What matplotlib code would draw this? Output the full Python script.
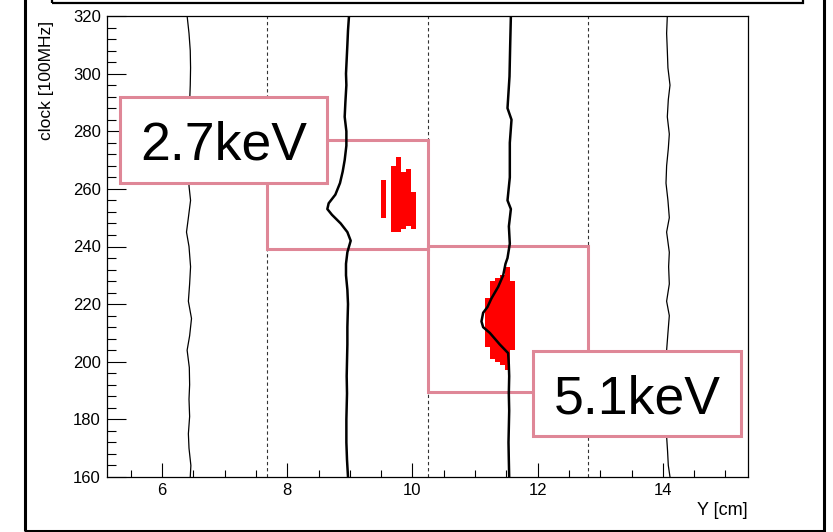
import matplotlib
matplotlib.use('Agg')
import matplotlib.pyplot as plt
from matplotlib.patches import Rectangle
from matplotlib.ticker import MultipleLocator

plt.rcParams['font.family'] = ['Liberation Sans', 'DejaVu Sans']

# ---- waveforms: clock [100MHz] vs Y position [cm] ----
wf1_clock = [320, 314, 308, 302, 296, 290, 284, 278, 272, 266, 261, 256, 250, 245, 240,
             233, 227, 221, 215, 209, 204, 198, 192, 187, 181, 175, 170, 164, 160]
wf1_pos = [6.40, 6.43, 6.45, 6.455, 6.45, 6.44, 6.45, 6.44, 6.45, 6.43, 6.43, 6.455, 6.42, 6.39, 6.43,
           6.455, 6.44, 6.42, 6.47, 6.44, 6.40, 6.435, 6.44, 6.43, 6.44, 6.42, 6.43, 6.46, 6.45]

wf2_clock = [320, 315, 310, 305, 300, 296, 290, 285, 280, 275, 270, 266, 262, 258, 255, 253, 251,
             248, 245, 242, 238, 234, 230, 225, 220, 212, 206, 200, 195, 189, 180, 172, 166, 160]
wf2_pos = [8.986, 8.970, 8.960, 8.949, 8.938, 8.944, 8.928, 8.917, 8.944, 8.944, 8.917, 8.885,
           8.842, 8.768, 8.661, 8.640, 8.714, 8.853, 8.960, 9.013, 8.960, 8.938, 8.938, 8.960,
           8.970, 8.960, 8.960, 8.954, 8.949, 8.954, 8.944, 8.944, 8.954, 8.970]

wf3_clock = [320, 310, 299, 288, 284, 276, 264, 256, 253, 247, 241, 236, 234, 230, 226, 222,
             219, 217, 214, 212, 210, 206, 203, 199, 195, 189, 183, 177, 172, 166, 160]
wf3_pos = [11.572, 11.561, 11.550, 11.518, 11.582, 11.555, 11.555, 11.518, 11.572, 11.540,
           11.555, 11.518, 11.486, 11.449, 11.369, 11.262, 11.198, 11.129, 11.102, 11.129,
           11.236, 11.395, 11.528, 11.539, 11.545, 11.539, 11.545, 11.539, 11.534, 11.539, 11.545]

wf4_clock = [320, 314, 308, 302, 296, 291, 285, 279, 274, 268, 262, 256, 250, 245, 238, 233,
             227, 221, 216, 210, 204, 196, 188, 180, 174, 169, 164, 160]
wf4_pos = [14.071, 14.060, 14.071, 14.081, 14.114, 14.087, 14.071, 14.103, 14.087, 14.060,
           14.050, 14.081, 14.103, 14.060, 14.103, 14.092, 14.103, 14.060, 14.103, 14.081,
           14.060, 14.075, 14.085, 14.070, 14.060, 14.075, 14.087, 14.114]

# ---- hit histograms (column centre [cm], low / high clock) ----
hit1_pos = [9.53, 9.69, 9.77, 9.85, 9.93, 10.01]
hit1_low = [250, 245, 245, 246, 247, 246]
hit1_high = [263, 268, 271, 266, 267, 259]

hit2_pos = [11.20, 11.28, 11.36, 11.44, 11.52, 11.60]
hit2_low = [205, 201, 200, 199, 197, 204]
hit2_high = [222, 228, 229, 230, 233, 228]

# ---- strips, regions and labels ----
strip_edges = [7.68, 10.24, 12.8]
roi_pos = [(7.68, 10.24), (10.24, 12.8)]
roi_clock = [(239, 277), (189.5, 240)]
energies = ['2.7keV', '5.1keV']

W, H = 833, 532
fig = plt.figure(figsize=(W / 100, H / 100), dpi=100)
ax = fig.add_axes([107 / W, 55 / H, 641 / W, 461 / H])

pink = '#DF8797'

for e in strip_edges:
    ax.axvline(e, color='#333333', lw=0.8, ls=(0, (3, 2.5)), zorder=2.5)

bw = 0.08
ax.bar(hit1_pos, [h - l for h, l in zip(hit1_high, hit1_low)], bottom=hit1_low,
       width=bw, color='#FF0000', edgecolor='none', zorder=2)
ax.bar(hit2_pos, [h - l for h, l in zip(hit2_high, hit2_low)], bottom=hit2_low,
       width=bw, color='#FF0000', edgecolor='none', zorder=2)

for (x0, x1), (c0, c1) in zip(roi_pos, roi_clock):
    ax.add_patch(Rectangle((x0, c0), x1 - x0, c1 - c0, fill=False, ec=pink, lw=2.2, zorder=2.8))

ax.plot(wf1_pos, wf1_clock, color='black', lw=0.9, zorder=3)
ax.plot(wf2_pos, wf2_clock, color='black', lw=1.8, zorder=3)
ax.plot(wf3_pos, wf3_clock, color='black', lw=1.8, zorder=3)
ax.plot(wf4_pos, wf4_clock, color='black', lw=0.9, zorder=3)

# label boxes (data coordinates)
label_boxes = [((5.33, 262.0), 3.30, 30.0), ((11.93, 174.2), 3.32, 29.5)]
for ((bx, by), bwid, bh), txt in zip(label_boxes, energies):
    ax.add_patch(Rectangle((bx, by), bwid, bh, fc='white', ec=pink, lw=2.2, zorder=5,
                           clip_on=False))
    ax.text(bx + bwid / 2, by + bh / 2, txt, ha='center', va='center_baseline',
            fontsize=38.5, color='black', zorder=6)

ax.set_xlim(5.12, 15.36)
ax.set_ylim(160, 320)

ax.xaxis.set_major_locator(MultipleLocator(2))
ax.xaxis.set_minor_locator(MultipleLocator(0.5))
ax.yaxis.set_major_locator(MultipleLocator(20))
ax.yaxis.set_minor_locator(MultipleLocator(4))

ax.tick_params(axis='both', which='both', direction='in', top=False, right=False,
               width=0.8, labelsize=12, pad=4.5)
ax.tick_params(axis='x', which='major', length=10)
ax.tick_params(axis='x', which='minor', length=5)
ax.tick_params(axis='y', which='major', length=13.5)
ax.tick_params(axis='y', which='minor', length=6.5)
for s in ax.spines.values():
    s.set_linewidth(0.9)

ax.set_xlabel('Y [cm]', fontsize=13, loc='right')
ax.xaxis.set_label_coords(1.0, -0.055)
ax.set_ylabel('clock [100MHz]', fontsize=12.5, loc='top')
ax.yaxis.set_label_coords(-0.083, 0.99)

# outer pad frame and title box
fig.add_artist(Rectangle((25 / W, 1.5 / H), 799 / W, 1.2, transform=fig.transFigure,
                         fill=False, ec='black', lw=2.2))
fig.add_artist(Rectangle((52 / W, 1 - 3 / H), 751 / W, 0.2, transform=fig.transFigure,
                         fill=False, ec='black', lw=1.6))

fig.savefig('out.png', dpi=100)
